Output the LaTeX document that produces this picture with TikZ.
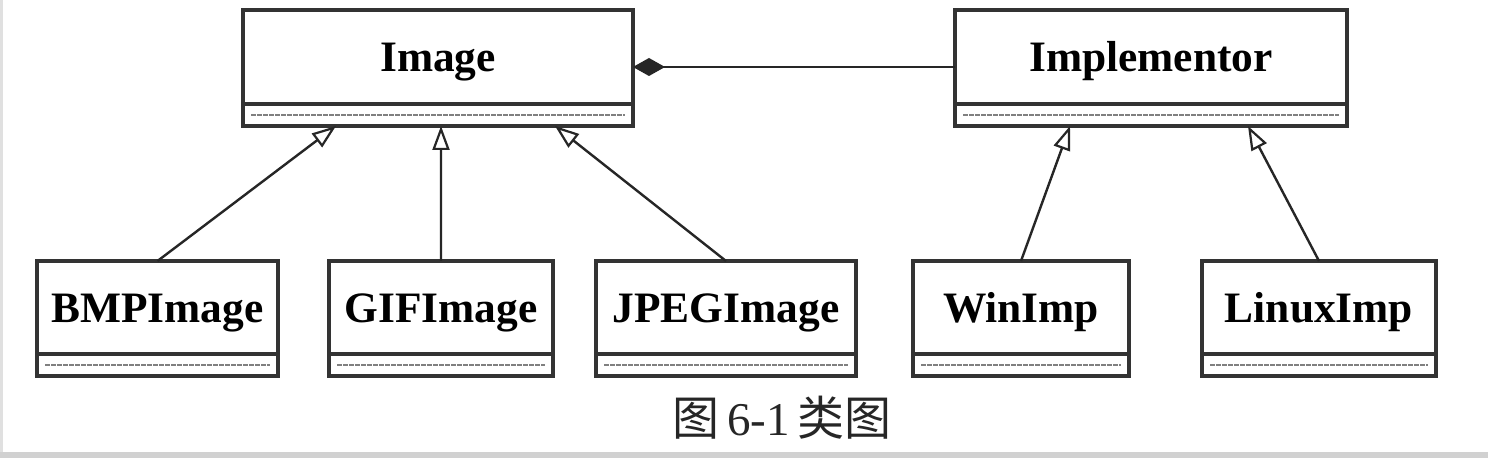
\documentclass[tikz,border=0pt]{standalone}
\usepackage{fontspec}
\setmainfont{Liberation Serif}
\newfontfamily\cjk{Noto Sans CJK SC}
\usetikzlibrary{arrows.meta,calc}
\begin{document}
\begin{tikzpicture}[x=0.5pt,y=-0.5pt,
  boxpart/.style={draw=black!80, line width=1.8pt, fill=white, inner sep=0pt, outer sep=0pt},
  toppart/.style={boxpart, minimum height=47pt, text height=15pt, text depth=0pt, font=\bfseries\fontsize{21.7}{24}\selectfont},
  botpart/.style={boxpart, minimum height=11pt},
  inherit/.style={draw=black!85, line width=1.2pt, -{Triangle[open, length=12pt, width=8.5pt, line width=1.1pt]}},
  compose/.style={draw=black!85, line width=1.2pt, -{Diamond[length=16pt, width=9pt]}},
  sepline/.style={draw=black!50, line width=1.2pt, dash pattern=on 2.5pt off 0.5pt}
]
\useasboundingbox (0,0) rectangle (1488,458);
\fill[white] (0,0) rectangle (1488,458);
\fill[black!18] (0,452) rectangle (1488,458);
\fill[black!12] (0,0) rectangle (3,452);

% top classes
\node[toppart, minimum width=195pt] (image) at (438,57) {Image};
\node[botpart, minimum width=195pt] (imageb) at (438,115) {};
\node[toppart, minimum width=196pt] (impl) at (1151,57) {Implementor};
\node[botpart, minimum width=196pt] (implb) at (1151,115) {};

% bottom classes
\node[toppart, minimum width=120.5pt] (bmp) at (157.5,308) {BMPImage};
\node[botpart, minimum width=120.5pt] (bmpb) at (157.5,365) {};
\node[toppart, minimum width=112pt] (gif) at (441,308) {GIFImage};
\node[botpart, minimum width=112pt] (gifb) at (441,365) {};
\node[toppart, minimum width=130pt] (jpeg) at (726,308) {JPEGImage};
\node[botpart, minimum width=130pt] (jpegb) at (726,365) {};
\node[toppart, minimum width=108pt] (win) at (1021,308) {WinImp};
\node[botpart, minimum width=108pt] (winb) at (1021,365) {};
\node[toppart, minimum width=117pt] (linux) at (1319,308) {LinuxImp};
\node[botpart, minimum width=117pt] (linuxb) at (1319,365) {};

% compartment lines
\foreach \n in {imageb,implb,bmpb,gifb,jpegb,winb,linuxb}{
  \draw[sepline] ([xshift=4pt]\n.west) -- ([xshift=-4pt]\n.east);
}

% generalizations
\draw[inherit] (bmp.north) -- ($(imageb.south west)!0.2385!(imageb.south east)$);
\draw[inherit] (gif.north) -- ($(imageb.south west)!0.5077!(imageb.south east)$);
\draw[inherit] (jpeg.north) -- ($(imageb.south west)!0.8!(imageb.south east)$);
\draw[inherit] (win.north) -- ($(implb.south west)!0.2934!(implb.south east)$);
\draw[inherit] (linux.north) -- ($(implb.south west)!0.7474!(implb.south east)$);

% composition
\draw[compose] ([yshift=-5pt]impl.west) -- ([yshift=-5pt]image.east);

% caption
\node[font=\fontsize{23.5}{27}\selectfont, text=black!85] (cap) at (782,418) {{\cjk 图}\,6-1\,{\cjk 类图}};
\end{tikzpicture}
\end{document}
